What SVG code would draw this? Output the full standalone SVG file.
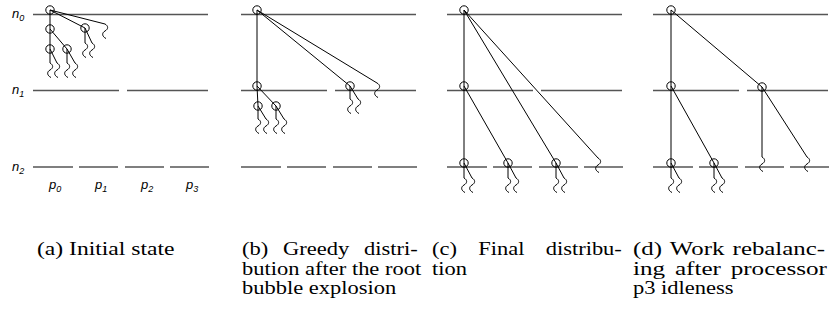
<svg xmlns="http://www.w3.org/2000/svg" width="838" height="322" viewBox="0 0 838 322">
<style>
.lvl{stroke:#555;stroke-width:1.5;fill:none}
.e{stroke:#000;stroke-width:1;fill:none}
.c{stroke:#000;stroke-width:1;fill:none}
.lab{font-family:"Liberation Sans",Arial,sans-serif;font-style:italic;font-size:13px;fill:#000}
.sub{font-size:9px}
.cap{font-family:"Liberation Serif","Times New Roman",serif;font-size:18px;fill:#000}
</style>
<defs>
<path id="sq" d="M0 0 c3.5 2 3.5 5 0 7 c-3.5 2 -3 5.5 1 7.5" class="e"/>
<g id="levels">
<line class="lvl" x1="33" y1="14.5" x2="208" y2="14.5"/>
<line class="lvl" x1="33" y1="90.5" x2="119" y2="90.5"/>
<line class="lvl" x1="127" y1="90.5" x2="208" y2="90.5"/>
<line class="lvl" x1="33" y1="167" x2="73" y2="167"/>
<line class="lvl" x1="79" y1="167" x2="118" y2="167"/>
<line class="lvl" x1="125" y1="167" x2="164" y2="167"/>
<line class="lvl" x1="170" y1="167" x2="209" y2="167"/>
</g>
</defs>

<g id="panel-a">
<use href="#levels"/>
<text class="lab" x="12" y="18">n<tspan class="sub" dy="3">0</tspan></text>
<text class="lab" x="12" y="94">n<tspan class="sub" dy="3">1</tspan></text>
<text class="lab" x="12" y="171">n<tspan class="sub" dy="3">2</tspan></text>
<text class="lab" x="49" y="189">p<tspan class="sub" dy="3">0</tspan></text>
<text class="lab" x="95" y="189">p<tspan class="sub" dy="3">1</tspan></text>
<text class="lab" x="141" y="189">p<tspan class="sub" dy="3">2</tspan></text>
<text class="lab" x="186" y="189">p<tspan class="sub" dy="3">3</tspan></text>
</g>
<g id="panel-b"><use href="#levels" transform="translate(208 0)"/></g>
<g id="panel-c"><use href="#levels" transform="translate(414 0)"/></g>
<g id="panel-d"><use href="#levels" transform="translate(620 0)"/></g>

<g id="connectors">
<!-- panel a -->
<path class="e" d="M50 10 V29 M50 10 L85 28 M50 10 L105 24 M50 29 V49 M50 29 L67 49 M85 28 V43 M85 28 L92 43 M50 49 V63 M50 49 L57 63 M67 49 V63 M67 49 L75 63"/>
<use href="#sq" x="105" y="24"/>
<use href="#sq" x="85" y="43"/><use href="#sq" x="92" y="43"/>
<use href="#sq" x="50" y="63"/><use href="#sq" x="57" y="63"/>
<use href="#sq" x="67" y="63"/><use href="#sq" x="75" y="63"/>
<!-- panel b -->
<path class="e" d="M257 10 V86 M257 10 L350 86 M257 10 L377 83 M257 86 L258 106 M257 86 L276 106 M258 106 V119 M258 106 L266 119 M276 106 V119 M276 106 L284 119 M350 86 V99 M350 86 L358 99"/>
<use href="#sq" x="377" y="83"/>
<use href="#sq" x="258" y="119"/><use href="#sq" x="266" y="119"/>
<use href="#sq" x="276" y="119"/><use href="#sq" x="284" y="119"/>
<use href="#sq" x="350" y="99"/><use href="#sq" x="358" y="99"/>
<!-- panel c -->
<path class="e" d="M464 10 V86 M464 10 L556 163 M464 10 L598 158 M464 86 V163 M464 86 L508 163 M464 163 V178 M464 163 L472 178 M508 163 V178 M508 163 L516 178 M556 163 V178 M556 163 L564 178"/>
<use href="#sq" x="598" y="158"/>
<use href="#sq" x="464" y="178"/><use href="#sq" x="472" y="178"/>
<use href="#sq" x="508" y="178"/><use href="#sq" x="516" y="178"/>
<use href="#sq" x="556" y="178"/><use href="#sq" x="564" y="178"/>
<!-- panel d -->
<path class="e" d="M671 10 V86 M671 10 L762 87 M671 86 V163 M671 86 L714 163 M762 87 V157 M762 87 L807 157 M671 163 V178 M671 163 L679 178 M714 163 V178 M714 163 L722 178"/>
<use href="#sq" x="762" y="157"/><use href="#sq" x="807" y="157"/>
<use href="#sq" x="671" y="178"/><use href="#sq" x="679" y="178"/>
<use href="#sq" x="714" y="178"/><use href="#sq" x="722" y="178"/>
</g>

<g id="bubbles">
<circle class="c" cx="50" cy="10" r="4.2"/><circle class="c" cx="50" cy="29" r="4.2"/><circle class="c" cx="85" cy="28" r="4.2"/><circle class="c" cx="50" cy="49" r="4.2"/><circle class="c" cx="67" cy="49" r="4.2"/>
<circle class="c" cx="257" cy="10" r="4.2"/><circle class="c" cx="257" cy="86" r="4.2"/><circle class="c" cx="350" cy="86" r="4.2"/><circle class="c" cx="258" cy="106" r="4.2"/><circle class="c" cx="276" cy="106" r="4.2"/>
<circle class="c" cx="464" cy="10" r="4.2"/><circle class="c" cx="464" cy="86" r="4.2"/><circle class="c" cx="464" cy="163" r="4.2"/><circle class="c" cx="508" cy="163" r="4.2"/><circle class="c" cx="556" cy="163" r="4.2"/>
<circle class="c" cx="671" cy="10" r="4.2"/><circle class="c" cx="671" cy="86" r="4.2"/><circle class="c" cx="762" cy="87" r="4.2"/><circle class="c" cx="671" cy="163" r="4.2"/><circle class="c" cx="714" cy="163" r="4.2"/>
</g>

<g id="captions">
<g id="cap-a" transform="translate(37 0) scale(1.25 1)">
<text class="cap" x="0" y="255" textLength="110" lengthAdjust="spacingAndGlyphs">(a) Initial state</text>
</g>
<g id="cap-b" transform="translate(242 0) scale(1.25 1)">
<text class="cap" x="0" y="255" word-spacing="7.4">(b) Greedy distri-</text>
<text class="cap" x="0" y="275">bution after the root</text>
<text class="cap" x="0" y="294">bubble explosion</text>
</g>
<g id="cap-c" transform="translate(432 0) scale(1.25 1)">
<text class="cap" x="0" y="255" word-spacing="12.5">(c) Final distribu-</text>
<text class="cap" x="0" y="275">tion</text>
</g>
<g id="cap-d" transform="translate(633 0) scale(1.25 1)">
<text class="cap" x="0" y="255" word-spacing="1.5" textLength="153.6" lengthAdjust="spacingAndGlyphs">(d) Work rebalanc-</text>
<text class="cap" x="0" y="275" word-spacing="2.5" textLength="155.2" lengthAdjust="spacingAndGlyphs">ing after processor</text>
<text class="cap" x="0" y="294">p3 idleness</text>
</g>
</g>
</svg>
